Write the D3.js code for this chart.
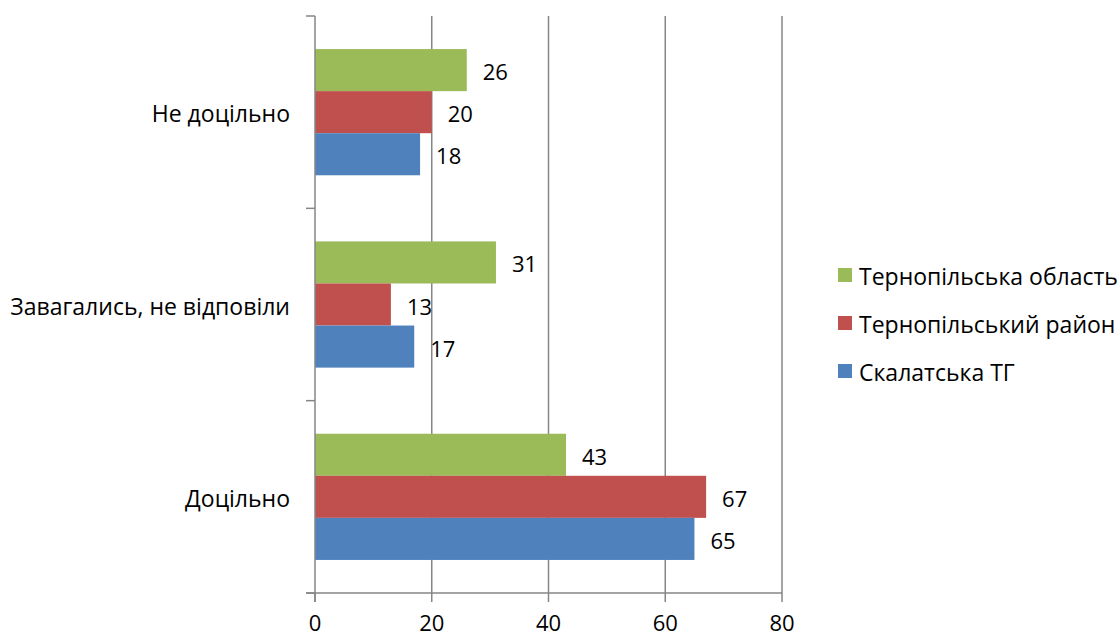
<!DOCTYPE html>
<html><head><meta charset="utf-8">
<script src="https://cdn.jsdelivr.net/npm/d3@7"></script>
<style>body{margin:0;background:#fff;} svg text{font-family:"Open Sans",sans-serif;fill:#000;}</style>
</head><body><svg id="c" width="1120" height="637"></svg>
<script>
const categories = ["Не доцільно", "Завагались, не відповіли", "Доцільно"];
const seriesNames = ["Тернопільська область", "Тернопільський район", "Скалатська ТГ"];
const seriesColors = ["#9BBB59", "#C0504D", "#4F81BD"];
const oblast = [26, 31, 43];
const raion = [20, 13, 67];
const skalat = [18, 17, 65];
const xTicks = [0, 20, 40, 60, 80];

const values = [oblast, raion, skalat];
const svg = d3.select("#c");
const pLeft = 315, pRight = 782, pTop = 16, pBottom = 593;
const x = d3.scaleLinear().domain([0, 80]).range([pLeft, pRight]);
const y = d3.scaleBand().domain(categories).range([pTop, pBottom]).paddingInner(0.3438).paddingOuter(0.1719);
const inner = d3.scaleBand().domain(d3.range(3)).range([0, y.bandwidth()]);

// gridlines
svg.append("g").selectAll("line").data(xTicks.slice(1)).join("line")
  .attr("x1", d => x(d)).attr("x2", d => x(d)).attr("y1", pTop).attr("y2", pBottom)
  .attr("stroke", "#868686").attr("stroke-width", 1.5);

// bars
categories.forEach((c, ci) => {
  values.forEach((arr, si) => {
    const yy = y(c) + inner(si);
    svg.append("rect").attr("x", x(0)).attr("y", yy).attr("width", x(arr[ci]) - x(0))
      .attr("height", inner.bandwidth()).attr("fill", seriesColors[si]);
    svg.append("text").attr("x", x(arr[ci]) + 16).attr("y", yy + inner.bandwidth() / 2 + 1)
      .attr("dominant-baseline", "central").attr("font-size", 22).text(arr[ci]);
  });
});

// y axis
const yTickPos = [pTop, pTop + (pBottom - pTop) / 3, pTop + 2 * (pBottom - pTop) / 3, pBottom];
svg.append("line").attr("x1", pLeft).attr("x2", pLeft).attr("y1", pTop).attr("y2", pBottom + 9)
  .attr("stroke", "#868686").attr("stroke-width", 1.5);
svg.append("g").selectAll("line").data(yTickPos).join("line")
  .attr("x1", pLeft - 9).attr("x2", pLeft).attr("y1", d => d).attr("y2", d => d)
  .attr("stroke", "#868686").attr("stroke-width", 1.5);
svg.append("g").selectAll("text").data(categories).join("text")
  .attr("x", 290).attr("y", d => y(d) + y.bandwidth() / 2 + 1)
  .attr("text-anchor", "end").attr("dominant-baseline", "central").attr("font-size", 23).text(d => d);

// x axis
svg.append("line").attr("x1", pLeft - 9).attr("x2", pRight).attr("y1", pBottom).attr("y2", pBottom)
  .attr("stroke", "#868686").attr("stroke-width", 1.5);
svg.append("g").selectAll("line").data(xTicks).join("line")
  .attr("x1", d => x(d)).attr("x2", d => x(d)).attr("y1", pBottom).attr("y2", pBottom + 9)
  .attr("stroke", "#868686").attr("stroke-width", 1.5);
svg.append("g").selectAll("text").data(xTicks).join("text")
  .attr("x", d => x(d)).attr("y", 631).attr("text-anchor", "middle")
  .attr("font-size", 22).text(d => d);

// legend
const lg = svg.append("g");
seriesNames.forEach((n, i) => {
  const cy = 275 + i * 48;
  lg.append("rect").attr("x", 838).attr("y", cy - 7).attr("width", 14).attr("height", 14).attr("fill", seriesColors[i]);
  lg.append("text").attr("x", 859).attr("y", cy + 1).attr("dominant-baseline", "central").attr("font-size", 23).text(n);
});
</script></body></html>
